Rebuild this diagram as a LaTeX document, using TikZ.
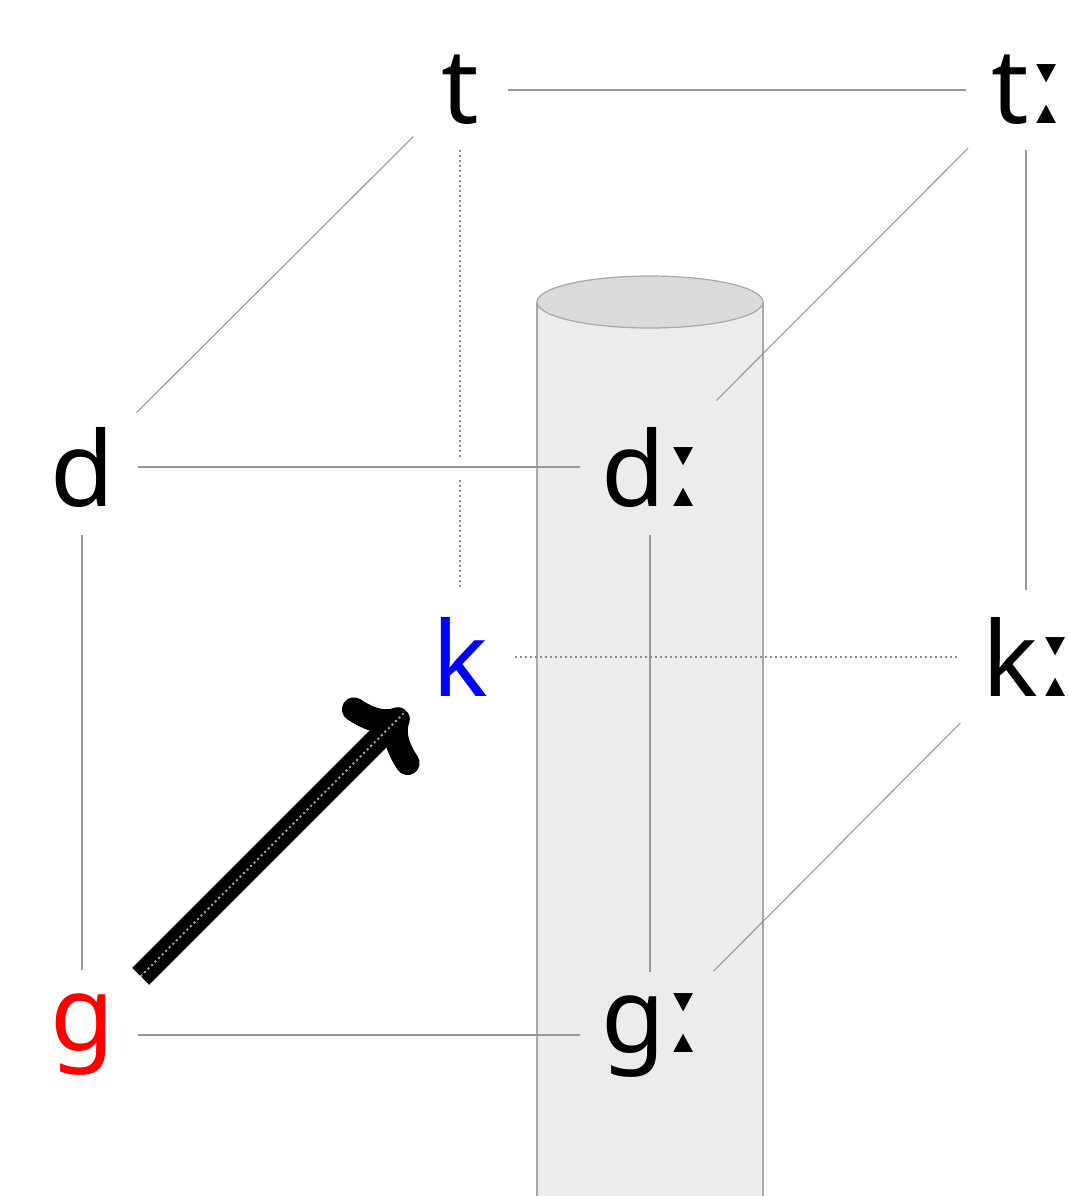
\documentclass[tikz,border=0pt]{standalone}
\usepackage{fontspec}
\setsansfont{Noto Sans}
\newfontfamily\ipafont{DejaVu Sans}
\usetikzlibrary{arrows.meta,calc}
\definecolor{edgegray}{HTML}{999999}
\definecolor{dotgray}{HTML}{8C8C8C}
\definecolor{cylbody}{HTML}{ECECEC}
\definecolor{cyltop}{HTML}{DADADA}
\definecolor{cylline}{HTML}{A8A8A8}
\newcommand{\lng}{\hspace{1pt}{\ipafont\fontsize{57}{57}\selectfont ː}\kern-4pt}
\begin{document}
\begin{tikzpicture}[x=0.5pt,y=-0.5pt,
  lbl/.style={font=\fontsize{52}{52}\selectfont\sffamily, inner sep=0pt, anchor=center},
  edge/.style={draw=edgegray, line width=0.55pt},
  hidden/.style={draw=dotgray, line width=1pt, dash pattern=on 1pt off 1.5pt},
  bigarrow/.style={line width=12pt, -{To[round,length=24pt,width=50pt]}}
]
\useasboundingbox (0,0) rectangle (1068,1196);
% cylinder
\fill[cylbody] (537,302) -- (537,1196) -- (763,1196) -- (763,302) -- cycle;
\draw[cylline, line width=0.6pt] (537,302) -- (537,1196) (763,302) -- (763,1196);
\draw[cylline, line width=0.6pt, fill=cyltop] (650,302) ellipse [x radius=56.5pt, y radius=13pt];
% nodes
\node[lbl] (t) at (460,90) {t};
\node[lbl] (T) at (1026,90) {t\lng};
\node[lbl] (d) at (82,467) {d};
\node[lbl] (D) at (650,467) {d\lng};
\node[lbl, text=blue] (k) at (460,657) {k};
\node[lbl] (K) at (1026,657) {k\lng};
\node[lbl, text=red] (g) at (82,1035) {g};
\node[lbl] (G) at (650,1035) {g\lng};
% edges
\draw[edge, shorten <=24pt, shorten >=30pt] (t.center) -- (T.center);
\draw[edge, shorten <=33pt, shorten >=38.5pt] (t.center) -- (d.center);
\draw[edge, shorten <=41pt, shorten >=47pt] (T.center) -- (D.center);
\draw[edge, shorten <=30pt, shorten >=33.5pt] (T.center |- T.center) -- (K.center);
\draw[hidden, shorten <=30pt, shorten >=33.5pt] (t.center) -- (k.center);
\fill[white] ($(t.center |- d.center)+(-5,-10)$) rectangle ($(t.center |- d.center)+(5,10)$);
\draw[edge, shorten <=28pt, shorten >=35pt] (d.center) -- (D.center);
\draw[edge, shorten <=34pt, shorten >=32.5pt] (d.center) -- (g.center);
\draw[edge, shorten <=34pt, shorten >=31.5pt] (D.center) -- (G.center);
\draw[hidden, shorten <=27.5pt, shorten >=33pt] (k.center) -- (K.center);
\draw[edge, shorten <=46.5pt, shorten >=45pt] (K.center) -- (G.center);
\draw[edge, shorten <=28pt, shorten >=35pt] (g.center) -- (G.center);
% arrow g -> k
\draw[bigarrow, shorten <=41.5pt, shorten >=38pt] (g.center) -- (k.center);
\draw[hidden, draw=gray!70, shorten <=41.5pt, shorten >=38pt] (g.center) -- (k.center);
\end{tikzpicture}
\end{document}
